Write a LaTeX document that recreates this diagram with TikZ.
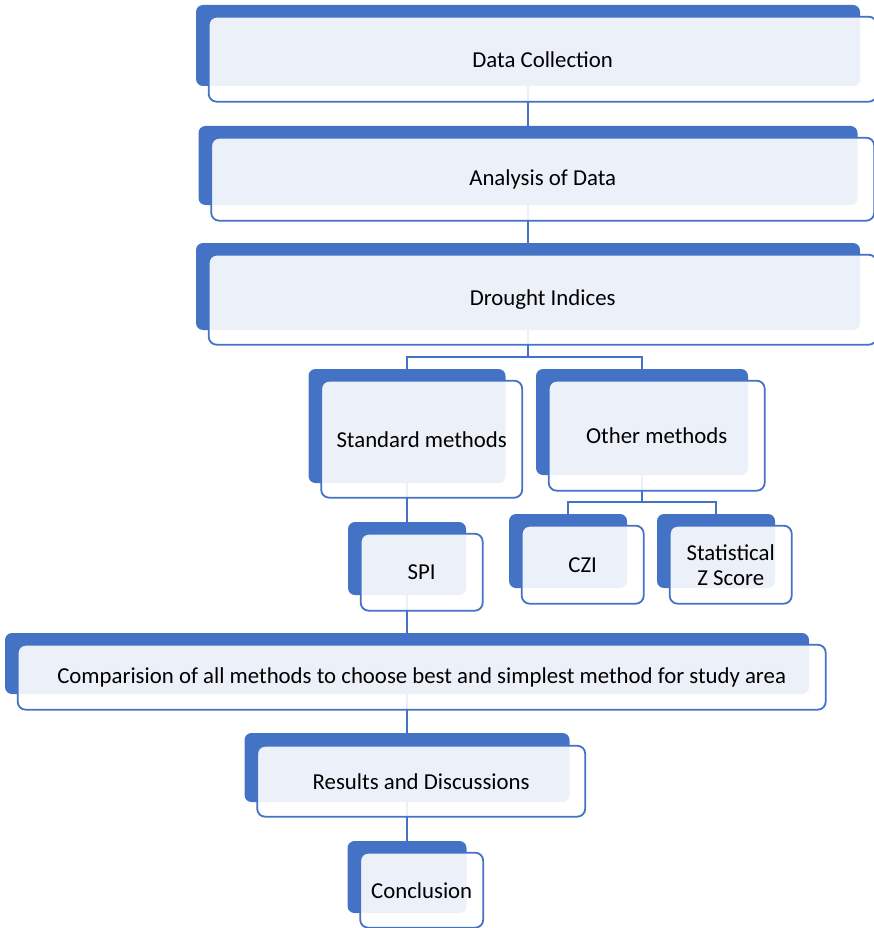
\documentclass[tikz,border=0pt]{standalone}
\usepackage{fontspec}
\setmainfont{Carlito}
\usetikzlibrary{calc,positioning}
\definecolor{sablue}{HTML}{4472C4}
\pgfdeclarelayer{bg}
\pgfsetlayers{bg,main}

\begin{document}
\begin{tikzpicture}[x=1pt, y=1pt,
    back/.style={fill=sablue, rounded corners=7pt, inner sep=0pt},
    front/.style={draw=sablue, line width=1.8pt, fill=white, fill opacity=0.9, text opacity=1, rounded corners=8pt, align=center, font=\fontsize{22.8}{25}\selectfont, inner sep=0pt, anchor=north west},
    link/.style={draw=sablue, line width=2pt}
  ]
    \useasboundingbox (0,0) rectangle (874,-928);

    \node[back, minimum width=664pt, minimum height=81pt] (dcb) at (528,-45.5) {};
    \node[front, minimum width=668pt, minimum height=85pt] (dc) at ($(dcb.north west)+(12,-11)$) {Data Collection};
    \node[back, minimum width=659pt, minimum height=79pt] (adb) at (528,-165.5) {};
    \node[front, minimum width=663pt, minimum height=83pt] (ad) at ($(adb.north west)+(12,-11)$) {Analysis of Data};
    \node[back, minimum width=664pt, minimum height=87pt] (dib) at (528,-286.5) {};
    \node[front, minimum width=668pt, minimum height=90pt] (di) at ($(dib.north west)+(12,-11)$) {Drought Indices};

    \node[back, minimum width=197pt, minimum height=114pt] (smb) at (407,-426) {};
    \node[front, minimum width=201pt, minimum height=117pt] (sm) at ($(smb.north west)+(12,-11)$) {Standard methods};
    \node[back, minimum width=212pt, minimum height=106pt] (omb) at (642,-422) {};
    \node[front, minimum width=216pt, minimum height=110pt] (om) at ($(omb.north west)+(12,-11)$) {Other methods};

    \node[back, minimum width=118pt, minimum height=73pt] (spb) at (407,-558.5) {};
    \node[front, minimum width=122pt, minimum height=77pt] (sp) at ($(spb.north west)+(12,-11)$) {SPI};
    \node[back, minimum width=118pt, minimum height=74pt] (czb) at (568,-551) {};
    \node[front, minimum width=122pt, minimum height=78pt] (cz) at ($(czb.north west)+(12,-11)$) {CZI};
    \node[back, minimum width=118pt, minimum height=74pt] (szb) at (716,-551) {};
    \node[front, minimum width=122pt, minimum height=78pt] (sz) at ($(szb.north west)+(12,-11)$) {Statistical\\Z Score};

    \node[back, minimum width=804pt, minimum height=61pt] (cmb) at (407,-663.5) {};
    \node[front, minimum width=808pt, minimum height=65pt] (cm) at ($(cmb.north west)+(12,-11)$) {Comparision of all methods to choose best and simplest method for study area};
    \node[back, minimum width=325pt, minimum height=69pt] (rdb) at (407,-767.5) {};
    \node[front, minimum width=328pt, minimum height=71pt] (rd) at ($(rdb.north west)+(12,-12)$) {Results and Discussions};
    \node[back, minimum width=119pt, minimum height=72pt] (clb) at (407,-877) {};
    \node[front, minimum width=123pt, minimum height=75pt] (cl) at ($(clb.north west)+(12,-11)$) {Conclusion};

    \coordinate (j1) at (528,-357);
    \coordinate (j2) at (642,-502);
    \begin{pgfonlayer}{bg}
      \draw[link] (dcb.center) -- (adb.center);
      \draw[link] (adb.center) -- (dib.center);
      \draw[link] (dib.center) -- (j1) -| (smb.center);
      \draw[link] (j1) -| (omb.center);
      \draw[link] (omb.center) -- (j2) -| (czb.center);
      \draw[link] (j2) -| (szb.center);
      \draw[link] (smb.center) -- (spb.center);
      \draw[link] (spb.center) -- (cmb.center);
      \draw[link] (cmb.center) -- (rdb.center);
      \draw[link] (rdb.center) -- (clb.center);
    \end{pgfonlayer}
  \end{tikzpicture}
\end{document}
